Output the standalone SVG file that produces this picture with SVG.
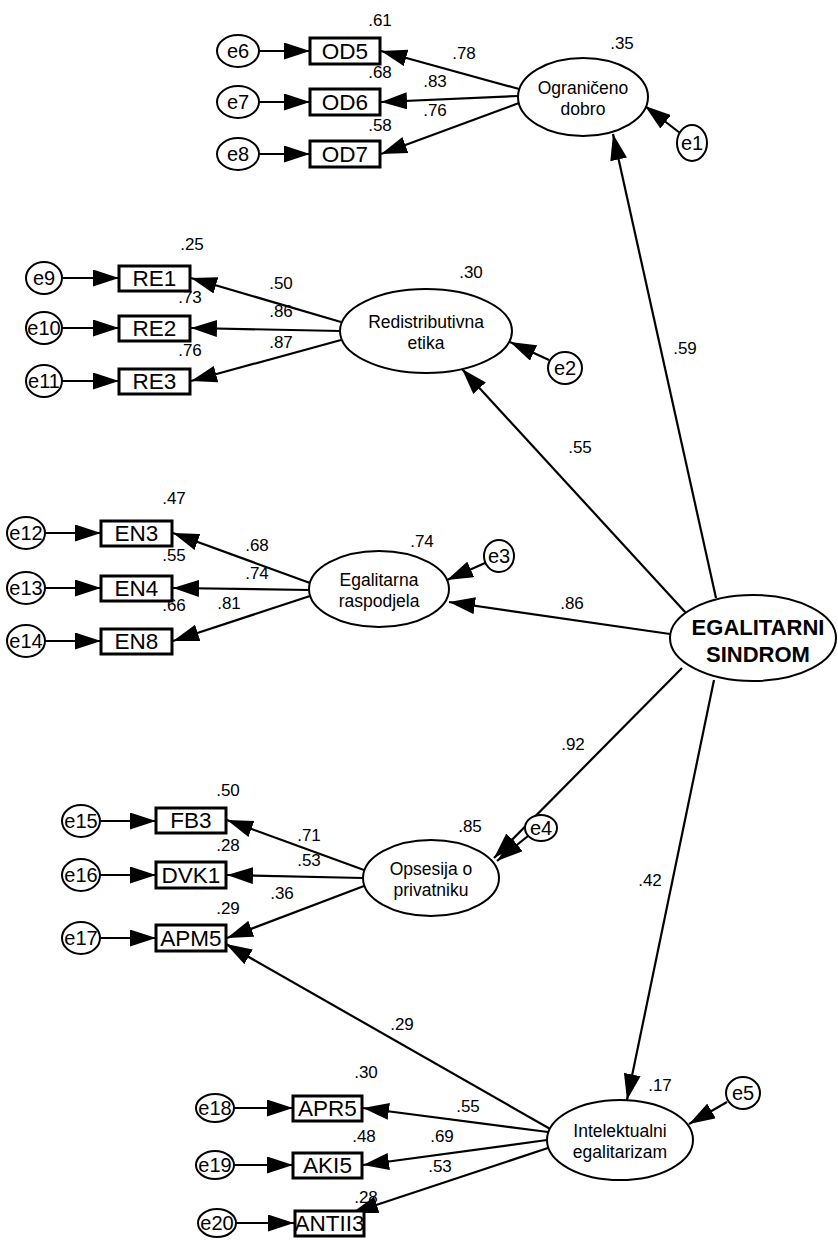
<svg xmlns="http://www.w3.org/2000/svg" width="838" height="1246" viewBox="0 0 838 1246">
<defs>
<marker id="ah" markerUnits="userSpaceOnUse" markerWidth="26" markerHeight="17" refX="26" refY="8.5" orient="auto">
<path d="M0,0 L26,8.5 L0,17 z" fill="#000"/>
</marker>
<style>
.e{fill:#fff;stroke:#000;stroke-width:2}
.et{font-family:"Liberation Sans",Arial,sans-serif;font-size:20px;text-anchor:middle;fill:#000}
.r{fill:#fff;stroke:#000;stroke-width:3}
.rt{font-family:"Liberation Sans",Arial,sans-serif;font-size:22.5px;text-anchor:middle;fill:#000}
.l{fill:#fff;stroke:#000;stroke-width:2}
.lt{font-family:"Liberation Sans",Arial,sans-serif;font-size:17.5px;text-anchor:middle;fill:#000}
.bt{font-family:"Liberation Sans",Arial,sans-serif;font-size:22px;font-weight:bold;text-anchor:middle;fill:#000}
.n{font-family:"Liberation Sans",Arial,sans-serif;font-size:17px;text-anchor:middle;fill:#000}
.c{stroke:#000;stroke-width:2.2;fill:none;marker-end:url(#ah)}
</style>
</defs>
<rect width="838" height="1246" fill="#fff"/>
<g id="connectors">
<line class="c" x1="716" y1="598" x2="613" y2="134"/>
<line class="c" x1="686" y1="613" x2="462" y2="369"/>
<line class="c" x1="670" y1="634" x2="449" y2="602"/>
<line class="c" x1="682" y1="668" x2="494" y2="858"/>
<line class="c" x1="714" y1="680" x2="627" y2="1100"/>
<line class="c" x1="552" y1="1130" x2="226" y2="944"/>
<line class="c" x1="519" y1="89" x2="381" y2="51"/>
<line class="c" x1="518" y1="96" x2="381" y2="102"/>
<line class="c" x1="519" y1="103" x2="381" y2="154"/>
<line class="c" x1="341" y1="322" x2="191" y2="278"/>
<line class="c" x1="340" y1="331" x2="191" y2="328"/>
<line class="c" x1="341" y1="340" x2="191" y2="381"/>
<line class="c" x1="310" y1="583" x2="173" y2="533"/>
<line class="c" x1="309" y1="590" x2="173" y2="588"/>
<line class="c" x1="310" y1="596" x2="173" y2="641"/>
<line class="c" x1="364" y1="870" x2="227" y2="820"/>
<line class="c" x1="363" y1="878" x2="227" y2="875"/>
<line class="c" x1="364" y1="886" x2="227" y2="938"/>
<line class="c" x1="548" y1="1132" x2="363" y2="1108"/>
<line class="c" x1="547" y1="1140" x2="363" y2="1165"/>
<line class="c" x1="548" y1="1148" x2="352" y2="1213"/>
<line class="c" x1="259" y1="51" x2="310" y2="51"/>
<line class="c" x1="259" y1="102" x2="310" y2="102"/>
<line class="c" x1="259" y1="154" x2="310" y2="154"/>
<line class="c" x1="62" y1="278" x2="119" y2="278"/>
<line class="c" x1="62" y1="328" x2="119" y2="328"/>
<line class="c" x1="62" y1="381" x2="119" y2="381"/>
<line class="c" x1="45" y1="533" x2="101" y2="533"/>
<line class="c" x1="45" y1="588" x2="101" y2="588"/>
<line class="c" x1="45" y1="641" x2="101" y2="641"/>
<line class="c" x1="100" y1="821" x2="156" y2="821"/>
<line class="c" x1="100" y1="875" x2="156" y2="875"/>
<line class="c" x1="100" y1="938" x2="156" y2="938"/>
<line class="c" x1="234" y1="1108" x2="293" y2="1108"/>
<line class="c" x1="234" y1="1165" x2="293" y2="1165"/>
<line class="c" x1="236" y1="1223" x2="294" y2="1223"/>
<line class="c" x1="680" y1="133" x2="645" y2="106"/>
<line class="c" x1="549" y1="360" x2="510" y2="342"/>
<line class="c" x1="485" y1="563" x2="447" y2="580"/>
<line class="c" x1="528" y1="836" x2="497" y2="861"/>
<line class="c" x1="727" y1="1102" x2="689" y2="1124"/>
</g>
<g id="labels">
<text class="n" x="380" y="26">.61</text>
<text class="n" x="622" y="49">.35</text>
<text class="n" x="464" y="59">.78</text>
<text class="n" x="380" y="78">.68</text>
<text class="n" x="435" y="87">.83</text>
<text class="n" x="435" y="116">.76</text>
<text class="n" x="380" y="131">.58</text>
<text class="n" x="685" y="354">.59</text>
<text class="n" x="192" y="250">.25</text>
<text class="n" x="471" y="278">.30</text>
<text class="n" x="281" y="289">.50</text>
<text class="n" x="190" y="303">.73</text>
<text class="n" x="281" y="317">.86</text>
<text class="n" x="281" y="348">.87</text>
<text class="n" x="190" y="356">.76</text>
<text class="n" x="580" y="453">.55</text>
<text class="n" x="174" y="504">.47</text>
<text class="n" x="422" y="547">.74</text>
<text class="n" x="257" y="551">.68</text>
<text class="n" x="174" y="561">.55</text>
<text class="n" x="257" y="579">.74</text>
<text class="n" x="229" y="609">.81</text>
<text class="n" x="174" y="611">.66</text>
<text class="n" x="572" y="609">.86</text>
<text class="n" x="573" y="750">.92</text>
<text class="n" x="228" y="796">.50</text>
<text class="n" x="470" y="832">.85</text>
<text class="n" x="309" y="841">.71</text>
<text class="n" x="228" y="851">.28</text>
<text class="n" x="309" y="866">.53</text>
<text class="n" x="282" y="899">.36</text>
<text class="n" x="228" y="914">.29</text>
<text class="n" x="650" y="886">.42</text>
<text class="n" x="402" y="1030">.29</text>
<text class="n" x="366" y="1078">.30</text>
<text class="n" x="660" y="1091">.17</text>
<text class="n" x="468" y="1112">.55</text>
<text class="n" x="364" y="1142">.48</text>
<text class="n" x="442" y="1142">.69</text>
<text class="n" x="440" y="1172">.53</text>
<text class="n" x="366" y="1203">.28</text>
</g>
<g id="ES"><ellipse class="l" cx="753" cy="638" rx="83" ry="43"/><text class="bt" x="758" y="635">EGALITARNI</text><text class="bt" x="758" y="662">SINDROM</text></g>
<g id="OD"><ellipse class="l" cx="583" cy="97" rx="65" ry="39"/><text class="lt" x="583" y="94">Ograničeno</text><text class="lt" x="583" y="115">dobro</text></g>
<g id="RE"><ellipse class="l" cx="426" cy="331" rx="86" ry="42"/><text class="lt" x="426" y="328">Redistributivna</text><text class="lt" x="426" y="349">etika</text></g>
<g id="EN"><ellipse class="l" cx="379" cy="589" rx="70" ry="38"/><text class="lt" x="379" y="586">Egalitarna</text><text class="lt" x="379" y="607">raspodjela</text></g>
<g id="OP"><ellipse class="l" cx="431" cy="878" rx="68" ry="38"/><text class="lt" x="431" y="875">Opsesija o</text><text class="lt" x="431" y="896">privatniku</text></g>
<g id="IE"><ellipse class="l" cx="620" cy="1140" rx="73" ry="40"/><text class="lt" x="620" y="1137">Intelektualni</text><text class="lt" x="620" y="1158">egalitarizam</text></g>
<g id="OD5"><rect class="r" x="310" y="38" width="70" height="26"/><text class="rt" x="345" y="59">OD5</text></g>
<g id="OD6"><rect class="r" x="310" y="89" width="70" height="26"/><text class="rt" x="345" y="110">OD6</text></g>
<g id="OD7"><rect class="r" x="310" y="141" width="70" height="26"/><text class="rt" x="345" y="162">OD7</text></g>
<g id="RE1"><rect class="r" x="119" y="266" width="71" height="25"/><text class="rt" x="154.5" y="286">RE1</text></g>
<g id="RE2"><rect class="r" x="119" y="316" width="71" height="25"/><text class="rt" x="154.5" y="336">RE2</text></g>
<g id="RE3"><rect class="r" x="119" y="369" width="71" height="25"/><text class="rt" x="154.5" y="389">RE3</text></g>
<g id="EN3"><rect class="r" x="101" y="521" width="71" height="25"/><text class="rt" x="136.5" y="541">EN3</text></g>
<g id="EN4"><rect class="r" x="101" y="576" width="71" height="25"/><text class="rt" x="136.5" y="596">EN4</text></g>
<g id="EN8"><rect class="r" x="101" y="629" width="71" height="25"/><text class="rt" x="136.5" y="649">EN8</text></g>
<g id="FB3"><rect class="r" x="156" y="808" width="70" height="25"/><text class="rt" x="191" y="828">FB3</text></g>
<g id="DVK1"><rect class="r" x="156" y="862" width="70" height="26"/><text class="rt" x="191" y="883">DVK1</text></g>
<g id="APM5"><rect class="r" x="156" y="925" width="70" height="26"/><text class="rt" x="191" y="946">APM5</text></g>
<g id="APR5"><rect class="r" x="293" y="1096" width="69" height="25"/><text class="rt" x="327.5" y="1116">APR5</text></g>
<g id="AKI5"><rect class="r" x="293" y="1153" width="69" height="25"/><text class="rt" x="327.5" y="1173">AKI5</text></g>
<g id="ANTII3"><rect class="r" x="295" y="1211" width="69" height="25"/><text class="rt" x="329.5" y="1231">ANTII3</text></g>
<g id="e1"><ellipse class="e" cx="692" cy="143" rx="15" ry="18"/><text class="et" x="692" y="150">e1</text></g>
<g id="e2"><ellipse class="e" cx="565" cy="368" rx="17" ry="16"/><text class="et" x="565" y="375">e2</text></g>
<g id="e3"><ellipse class="e" cx="499" cy="556" rx="15" ry="16"/><text class="et" x="499" y="563">e3</text></g>
<g id="e4"><ellipse class="e" cx="541" cy="828" rx="16" ry="13"/><text class="et" x="541" y="835">e4</text></g>
<g id="e5"><ellipse class="e" cx="743" cy="1093" rx="17" ry="16"/><text class="et" x="743" y="1100">e5</text></g>
<g id="e6"><ellipse class="e" cx="238" cy="51" rx="21" ry="16"/><text class="et" x="238" y="58">e6</text></g>
<g id="e7"><ellipse class="e" cx="238" cy="102" rx="21" ry="16"/><text class="et" x="238" y="109">e7</text></g>
<g id="e8"><ellipse class="e" cx="238" cy="154" rx="21" ry="16"/><text class="et" x="238" y="161">e8</text></g>
<g id="e9"><ellipse class="e" cx="44" cy="278" rx="18" ry="16"/><text class="et" x="44" y="285">e9</text></g>
<g id="e10"><ellipse class="e" cx="44" cy="328" rx="18" ry="16"/><text class="et" x="44" y="335">e10</text></g>
<g id="e11"><ellipse class="e" cx="44" cy="381" rx="18" ry="16"/><text class="et" x="44" y="388">e11</text></g>
<g id="e12"><ellipse class="e" cx="26" cy="533" rx="19" ry="16"/><text class="et" x="26" y="540">e12</text></g>
<g id="e13"><ellipse class="e" cx="26" cy="588" rx="19" ry="16"/><text class="et" x="26" y="595">e13</text></g>
<g id="e14"><ellipse class="e" cx="26" cy="641" rx="19" ry="16"/><text class="et" x="26" y="648">e14</text></g>
<g id="e15"><ellipse class="e" cx="81" cy="821" rx="19" ry="16"/><text class="et" x="81" y="828">e15</text></g>
<g id="e16"><ellipse class="e" cx="81" cy="875" rx="19" ry="16"/><text class="et" x="81" y="882">e16</text></g>
<g id="e17"><ellipse class="e" cx="81" cy="938" rx="19" ry="16"/><text class="et" x="81" y="945">e17</text></g>
<g id="e18"><ellipse class="e" cx="215" cy="1108" rx="19" ry="14"/><text class="et" x="215" y="1115">e18</text></g>
<g id="e19"><ellipse class="e" cx="215" cy="1165" rx="19" ry="14"/><text class="et" x="215" y="1172">e19</text></g>
<g id="e20"><ellipse class="e" cx="217" cy="1223" rx="19" ry="14"/><text class="et" x="217" y="1230">e20</text></g>
</svg>
